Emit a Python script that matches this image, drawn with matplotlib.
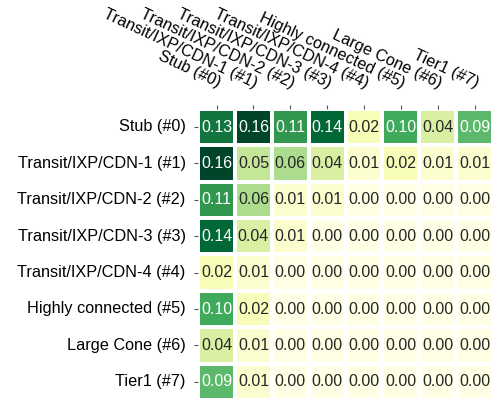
import numpy as np
import matplotlib
matplotlib.use('Agg')
import matplotlib.pyplot as plt
import seaborn as sns

labels = ['Stub (#0)', 'Transit/IXP/CDN-1 (#1)', 'Transit/IXP/CDN-2 (#2)',
          'Transit/IXP/CDN-3 (#3)', 'Transit/IXP/CDN-4 (#4)',
          'Highly connected (#5)', 'Large Cone (#6)', 'Tier1 (#7)']

row0 = [0.13, 0.16, 0.11, 0.14, 0.02, 0.10, 0.04, 0.09]
row1 = [0.16, 0.05, 0.06, 0.04, 0.01, 0.02, 0.01, 0.01]
row2 = [0.11, 0.06, 0.01, 0.01, 0.00, 0.00, 0.00, 0.00]
row3 = [0.14, 0.04, 0.01, 0.00, 0.00, 0.00, 0.00, 0.00]
row4 = [0.02, 0.01, 0.00, 0.00, 0.00, 0.00, 0.00, 0.00]
row5 = [0.10, 0.02, 0.00, 0.00, 0.00, 0.00, 0.00, 0.00]
row6 = [0.04, 0.01, 0.00, 0.00, 0.00, 0.00, 0.00, 0.00]
row7 = [0.09, 0.01, 0.00, 0.00, 0.00, 0.00, 0.00, 0.00]
matrix = np.array([row0, row1, row2, row3, row4, row5, row6, row7])

plt.rcParams['font.family'] = ['Liberation Sans', 'DejaVu Sans']
plt.rcParams['font.size'] = 11.7

fig = plt.figure(figsize=(4.93, 4.0), dpi=100)
ax = fig.add_axes([0.402, 0.0, 0.598, 0.728])
sns.heatmap(matrix, ax=ax, cmap='YlGn', annot=True, fmt='.2f', cbar=False,
            linewidths=1.5, linecolor='white', xticklabels=labels, yticklabels=labels,
            annot_kws={'size': 11.5})
ax.xaxis.tick_top()
plt.setp(ax.get_xticklabels(), rotation=-25, ha='right', rotation_mode='anchor')
plt.setp(ax.get_yticklabels(), rotation=0)
ax.tick_params(length=3, color='#555555')
ax.tick_params(axis='x', pad=10)
ax.tick_params(axis='y', pad=6)
fig.savefig('out.png', dpi=100)
